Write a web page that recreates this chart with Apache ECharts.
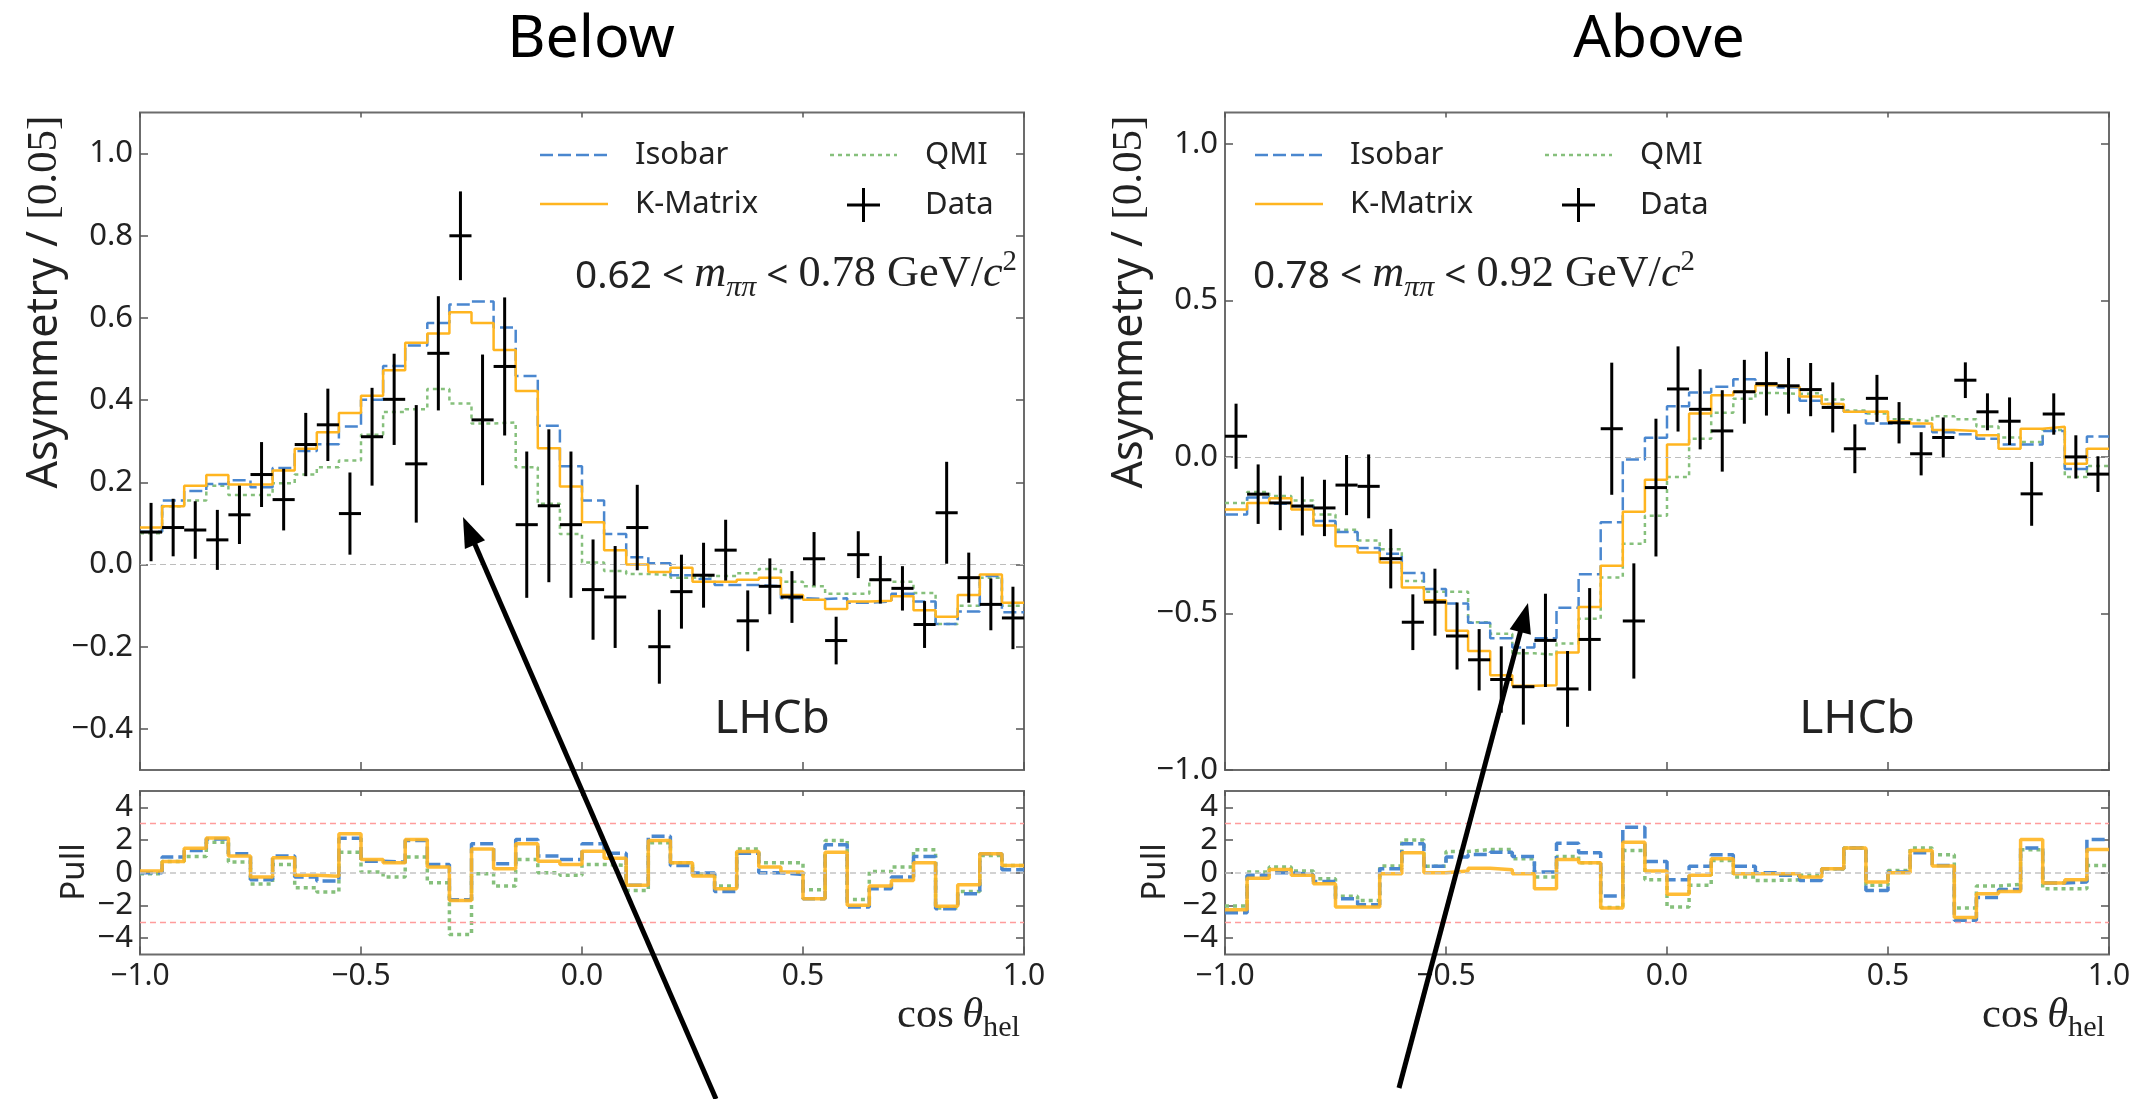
<!DOCTYPE html>
<html><head><meta charset="utf-8">
<script src="https://cdn.jsdelivr.net/npm/echarts@6/dist/echarts.min.js"></script>
<style>html,body{margin:0;padding:0;background:#fff}#c{width:2146px;height:1099px}</style>
</head><body><div id="c"></div>
<script>
// ---------------- DATA ----------------
const X_MIN = -1, X_MAX = 1, BIN_W = 0.05, N_BINS = 40;
const binLow = Array.from({length: N_BINS}, (_, i) => +(X_MIN + i * BIN_W).toFixed(3));
const binMid = binLow.map(x => +(x + BIN_W / 2).toFixed(3));
const xTicks = [-1, -0.5, 0, 0.5, 1];
const yTicksBelow = [-0.4, -0.2, 0, 0.2, 0.4, 0.6, 0.8, 1.0];
const yTicksAbove = [-1.0, -0.5, 0, 0.5, 1.0];
const pullTicks = [-4, -2, 0, 2, 4];

// Below: 0.62 < m < 0.78
const dataBelow = [0.079, 0.090, 0.084, 0.060, 0.121, 0.219, 0.158, 0.292, 0.340, 0.124,
  0.311, 0.402, 0.245, 0.514, 0.800, 0.352, 0.482, 0.097, 0.143, 0.097,
  -0.061, -0.079, 0.090, -0.200, -0.066, -0.026, 0.035, -0.137, -0.053, -0.079,
  0.014, -0.185, 0.024, -0.037, -0.058, -0.146, 0.126, -0.032, -0.097, -0.130];
const errBelow = [0.071, 0.070, 0.070, 0.073, 0.071, 0.079, 0.075, 0.077, 0.088, 0.100,
  0.119, 0.111, 0.143, 0.139, 0.108, 0.159, 0.168, 0.178, 0.186, 0.178,
  0.122, 0.124, 0.104, 0.090, 0.090, 0.079, 0.074, 0.074, 0.068, 0.063,
  0.065, 0.058, 0.057, 0.058, 0.054, 0.057, 0.124, 0.061, 0.063, 0.076];
const isobarBelow = [0.080, 0.156, 0.179, 0.196, 0.205, 0.188, 0.235, 0.276, 0.293, 0.336,
  0.401, 0.483, 0.533, 0.588, 0.633, 0.640, 0.577, 0.459, 0.338, 0.239,
  0.156, 0.074, 0.018, 0.003, -0.026, -0.035, -0.050, -0.050, -0.053, -0.082,
  -0.084, -0.082, -0.093, -0.090, -0.071, -0.090, -0.145, -0.114, -0.028, -0.116];
const kmatrixBelow = [0.090, 0.142, 0.192, 0.218, 0.195, 0.195, 0.229, 0.282, 0.322, 0.369,
  0.411, 0.473, 0.540, 0.562, 0.614, 0.588, 0.522, 0.422, 0.283, 0.190,
  0.103, 0.035, 0.000, -0.018, -0.008, -0.042, -0.042, -0.037, -0.032, -0.074,
  -0.086, -0.108, -0.090, -0.088, -0.077, -0.111, -0.127, -0.074, -0.024, -0.093];
const qmiBelow = [0.076, 0.142, 0.156, 0.192, 0.169, 0.169, 0.198, 0.219, 0.237, 0.253,
  0.316, 0.371, 0.378, 0.427, 0.392, 0.343, 0.346, 0.237, 0.148, 0.074,
  0.005, -0.016, -0.023, -0.026, -0.032, -0.028, -0.028, -0.021, -0.011, -0.042,
  -0.053, -0.071, -0.071, -0.037, -0.042, -0.069, -0.145, -0.100, -0.032, -0.100];
const pullIsobarBelow = [0.00, 0.96, 1.36, 2.07, 1.16, -0.43, 1.02, -0.26, -0.51, 2.11,
  0.71, 0.65, 1.97, 0.51, -1.65, 1.77, 0.55, 2.03, 1.02, 0.81,
  1.77, 1.20, -0.77, 2.24, 0.45, -0.02, -1.14, 1.20, 0.00, -0.10,
  -1.59, 1.71, -2.09, -0.98, -0.26, 1.00, -2.20, -1.28, 1.16, 0.18];
const pullKmatrixBelow = [0.10, 0.69, 1.50, 2.13, 1.02, -0.26, 0.91, -0.16, -0.22, 2.38,
  0.81, 0.61, 2.03, 0.35, -1.69, 1.46, 0.24, 1.77, 0.71, 0.51,
  1.32, 0.89, -0.77, 1.97, 0.61, -0.20, -0.98, 1.30, 0.35, 0.04,
  -1.59, 1.26, -1.99, -0.81, -0.47, 0.61, -2.05, -0.73, 1.16, 0.45];
const pullQmiBelow = [-0.06, 0.69, 1.00, 1.87, 0.65, -0.69, 0.51, -0.91, -1.18, 1.26,
  0.04, -0.26, 0.96, -0.61, -3.78, -0.06, -0.81, 0.81, 0.00, -0.16,
  0.51, 0.45, -1.08, 1.83, 0.61, -0.06, -0.81, 1.46, 0.61, 0.61,
  -1.04, 1.97, -1.63, 0.08, 0.35, 1.40, -2.15, -1.14, 1.06, 0.45];

// Above: 0.78 < m < 0.92
const dataAbove = [0.066, -0.119, -0.147, -0.157, -0.163, -0.090, -0.094, -0.325, -0.528, -0.464,
  -0.572, -0.648, -0.711, -0.734, -0.586, -0.741, -0.583, 0.090, -0.524, -0.098,
  0.217, 0.152, 0.083, 0.208, 0.234, 0.227, 0.215, 0.158, 0.026, 0.187,
  0.109, 0.010, 0.062, 0.245, 0.144, 0.114, -0.118, 0.137, 0.000, -0.055];
const errAbove = [0.104, 0.095, 0.087, 0.094, 0.090, 0.096, 0.102, 0.095, 0.089, 0.107,
  0.107, 0.098, 0.106, 0.121, 0.149, 0.121, 0.164, 0.211, 0.184, 0.220,
  0.136, 0.128, 0.130, 0.102, 0.102, 0.089, 0.085, 0.080, 0.078, 0.075,
  0.066, 0.069, 0.064, 0.057, 0.059, 0.076, 0.102, 0.066, 0.069, 0.057];
const isobarAbove = [-0.184, -0.130, -0.150, -0.157, -0.205, -0.240, -0.291, -0.309, -0.371, -0.422,
  -0.468, -0.530, -0.579, -0.609, -0.579, -0.482, -0.375, -0.209, -0.008, 0.061,
  0.162, 0.206, 0.224, 0.248, 0.231, 0.222, 0.179, 0.169, 0.144, 0.107,
  0.107, 0.097, 0.079, 0.072, 0.058, 0.040, 0.040, 0.083, -0.039, 0.065];
const kmatrixAbove = [-0.168, -0.147, -0.132, -0.168, -0.219, -0.285, -0.305, -0.337, -0.417, -0.458,
  -0.555, -0.620, -0.697, -0.731, -0.729, -0.625, -0.479, -0.348, -0.175, -0.073,
  0.040, 0.139, 0.197, 0.208, 0.229, 0.224, 0.193, 0.169, 0.144, 0.145,
  0.114, 0.107, 0.086, 0.083, 0.069, 0.026, 0.090, 0.096, -0.022, 0.026];
const qmiAbove = [-0.147, -0.112, -0.125, -0.139, -0.184, -0.233, -0.267, -0.295, -0.396, -0.431,
  -0.431, -0.528, -0.565, -0.627, -0.632, -0.596, -0.517, -0.385, -0.277, -0.188,
  -0.064, 0.058, 0.141, 0.186, 0.204, 0.201, 0.204, 0.183, 0.148, 0.139,
  0.120, 0.114, 0.130, 0.120, 0.097, 0.062, 0.048, 0.086, -0.064, -0.029];
const pullIsobarAbove = [-2.44, -0.16, 0.00, -0.12, -0.53, -1.59, -1.95, 0.24, 1.77, 0.39,
  0.96, 1.12, 1.26, 0.99, 0.04, 1.81, 1.22, -1.42, 2.78, 0.69,
  -0.43, 0.39, 1.10, 0.39, 0.00, -0.16, -0.47, 0.24, 1.52, -1.08,
  0.04, 1.22, 0.45, -2.91, -1.52, -1.02, 1.52, -0.63, -0.57, 2.03];
const pullKmatrixAbove = [-2.26, -0.33, 0.20, -0.16, -0.67, -2.09, -2.09, -0.06, 1.22, 0.00,
  0.10, 0.28, 0.18, -0.06, -0.98, 0.81, 0.61, -2.15, 1.87, 0.10,
  -1.32, -0.16, 0.85, -0.06, -0.06, -0.06, -0.26, 0.24, 1.52, -0.57,
  0.00, 1.36, 0.41, -2.74, -1.28, -1.14, 2.03, -0.63, -0.43, 1.42];
const pullQmiAbove = [-2.03, 0.04, 0.35, 0.10, -0.37, -1.44, -1.69, 0.41, 2.01, 0.39,
  1.30, 1.42, 1.42, 0.85, -0.26, 1.00, 0.61, -2.13, 1.36, -0.43,
  -2.09, -0.77, 0.75, -0.26, -0.47, -0.43, -0.16, 0.24, 1.52, -0.77,
  0.14, 1.52, 1.10, -2.15, -0.81, -0.71, 1.40, -0.98, -0.98, 0.45];

// ---------------- STYLE ----------------
const C_BLUE = '#4a87cf', C_ORANGE = '#ffb520', C_GREEN = '#86c07c';
const SANS = "'Noto Sans'", SERIF = "'Liberation Serif'";
const TICK_COLOR = '#555', FRAME = '#6c6c6c', LABEL_COLOR = '#222';

const panels = [
  {name: 'Below', left: 140, ymin: -0.5, ymax: 1.1, yTicks: yTicksBelow,
   data: dataBelow, err: errBelow, iso: isobarBelow, km: kmatrixBelow, qmi: qmiBelow,
   pIso: pullIsobarBelow, pKm: pullKmatrixBelow, pQmi: pullQmiBelow,
   mass: ['0.62', '0.78']},
  {name: 'Above', left: 1225, ymin: -1.0, ymax: 1.1, yTicks: yTicksAbove,
   data: dataAbove, err: errAbove, iso: isobarAbove, km: kmatrixAbove, qmi: qmiAbove,
   pIso: pullIsobarAbove, pKm: pullKmatrixAbove, pQmi: pullQmiAbove,
   mass: ['0.78', '0.92']}
];
const PW = 884, TOP_Y = 112.5, TOP_H = 657.5, PULL_Y = 791, PULL_H = 163.5;

const fmt = (v, d) => (v < 0 ? '\u2212' : '') + Math.abs(v).toFixed(d);

function stepData(vals) {
  const d = vals.map((v, i) => [binLow[i], v]);
  d.push([X_MAX, vals[vals.length - 1]]);
  return d;
}

const grids = [], xAxes = [], yAxes = [], series = [];

function addAxes(g, showX, ymin, ymax, ticks, dec) {
  const tick = {inside: true, length: 8, lineStyle: {color: TICK_COLOR, width: 1.5}};
  const noLine = {show: false, onZero: false};
  const xLab = {show: showX, fontSize: 30, fontFamily: SANS, color: LABEL_COLOR, margin: 7,
    customValues: xTicks, formatter: v => fmt(v, 1)};
  xAxes.push({type: 'value', gridIndex: g, position: 'bottom', min: X_MIN, max: X_MAX, interval: 0.5,
    axisLine: noLine, axisTick: Object.assign({customValues: xTicks}, tick), axisLabel: xLab, splitLine: {show: false}});
  xAxes.push({type: 'value', gridIndex: g, position: 'top', min: X_MIN, max: X_MAX, interval: 0.5,
    axisLine: noLine, axisTick: {customValues: xTicks, inside: true, length: 5, lineStyle: {color: TICK_COLOR, width: 1.5}},
    axisLabel: {show: false}, splitLine: {show: false}});
  yAxes.push({type: 'value', gridIndex: g, position: 'left', min: ymin, max: ymax,
    axisLine: noLine, splitLine: {show: false},
    axisTick: Object.assign({customValues: ticks}, tick),
    axisLabel: {customValues: ticks, fontSize: 31, fontFamily: SANS, color: LABEL_COLOR, margin: 7,
      formatter: v => fmt(v, dec)}});
  yAxes.push({type: 'value', gridIndex: g, position: 'right', min: ymin, max: ymax,
    axisLine: noLine, splitLine: {show: false},
    axisTick: Object.assign({customValues: ticks}, tick),
    axisLabel: {show: false, customValues: ticks}});
}

function stepSeries(name, vals, g, color, type, width, extra) {
  return Object.assign({
    name, type: 'line', step: 'end', data: stepData(vals), xAxisIndex: 2 * g, yAxisIndex: 2 * g,
    showSymbol: false, symbol: 'none', silent: true, animation: false,
    lineStyle: {color, width, type, cap: 'butt'}, z: 3
  }, extra || {});
}

function errSeries(vals, errs, g) {
  return {
    type: 'custom', xAxisIndex: 2 * g, yAxisIndex: 2 * g, silent: true, animation: false, z: 6,
    data: vals.map((v, i) => [binMid[i], v, errs[i]]),
    encode: {x: 0, y: 1},
    renderItem: (params, api) => {
      const x = api.value(0), y = api.value(1), e = api.value(2);
      const l = api.coord([x - BIN_W / 2, y]), r = api.coord([x + BIN_W / 2, y]);
      const t = api.coord([x, y + e]), b = api.coord([x, y - e]);
      const st = {stroke: '#000', lineWidth: 3};
      return {type: 'group', children: [
        {type: 'line', shape: {x1: l[0], y1: l[1], x2: r[0], y2: r[1]}, style: st},
        {type: 'line', shape: {x1: t[0], y1: t[1], x2: b[0], y2: b[1]}, style: st}
      ]};
    }
  };
}

panels.forEach((p, k) => {
  const gTop = 2 * k, gPull = 2 * k + 1;
  const gridStyle = {show: true, borderColor: FRAME, borderWidth: 2, backgroundColor: 'transparent', containLabel: false};
  grids.push(Object.assign({left: p.left, top: TOP_Y, width: PW, height: TOP_H}, gridStyle));
  grids.push(Object.assign({left: p.left, top: PULL_Y, width: PW, height: PULL_H}, gridStyle));
  addAxes(gTop, false, p.ymin, p.ymax, p.yTicks, 1);
  addAxes(gPull, true, -5, 5, pullTicks, 0);

  // top panel
  series.push(stepSeries('QMI', p.qmi, gTop, C_GREEN, [4, 4], 2.5, {
    markLine: {silent: true, symbol: 'none', label: {show: false}, animation: false,
      lineStyle: {color: '#bdbdbd', type: [6, 4], width: 1},
      data: [{yAxis: 0}]}, z: 2}));
  series.push(stepSeries('Isobar', p.iso, gTop, C_BLUE, [13, 5], 2.5));
  series.push(stepSeries('K-Matrix', p.km, gTop, C_ORANGE, 'solid', 2.5, {z: 4}));
  series.push(errSeries(p.data, p.err, gTop));

  // pull panel
  series.push(stepSeries('QMI pull', p.pQmi, gPull, C_GREEN, [4, 4], 3.5, {
    markLine: {silent: true, symbol: 'none', label: {show: false}, animation: false,
      data: [
        {yAxis: 3, lineStyle: {color: '#ff9c9c', type: [6, 4], width: 1.3}},
        {yAxis: -3, lineStyle: {color: '#ff9c9c', type: [6, 4], width: 1.3}},
        {yAxis: 0, lineStyle: {color: '#c4c4c4', type: [6, 4], width: 1.5}}
      ]}, z: 2}));
  series.push(stepSeries('Isobar pull', p.pIso, gPull, C_BLUE, [13, 5], 3.5));
  series.push(stepSeries('K-Matrix pull', p.pKm, gPull, C_ORANGE, 'solid', 3.5, {z: 4, lineStyle: {color: C_ORANGE, width: 3.5, opacity: 0.9}}));
});

// ---------------- TEXT HELPERS ----------------
const ctx2d = document.createElement('canvas').getContext('2d');
function fontStr(p, k) {
  return `${p.italic ? 'italic ' : ''}${p.weight || 'normal'} ${(p.size * k).toFixed(2)}px ${p.family}`;
}
function pieceW(p, k) { ctx2d.font = fontStr(p, k); return ctx2d.measureText(p.t).width; }
function runWidth(pieces, k) { return pieces.reduce((s, p) => s + pieceW(p, k), 0); }
function makeRun(pieces, o) {
  let k = 1;
  if (o.targetWidth) k = o.targetWidth / runWidth(pieces, 1);
  const w = runWidth(pieces, k);
  const align = o.align || 'left';
  let cx = align === 'left' ? o.x : (align === 'right' ? o.x - w : o.x - w / 2);
  const els = [];
  pieces.forEach(p => {
    const f = fontStr(p, k);
    els.push({type: 'text', silent: true, x: cx, y: o.baseline + (p.dy || 0) * k - 0.32 * p.size * k,
      style: {text: p.t, font: f, fill: o.fill || LABEL_COLOR, align: 'left', verticalAlign: 'middle',
        textAlign: 'left', textVerticalAlign: 'middle'}});
    cx += pieceW(p, k);
  });
  return els;
}
function simpleText(t, x, y, size, align, fill, family) {
  return {type: 'text', silent: true, x, y,
    style: {text: t, font: `normal ${size}px ${family || SANS}`, fill: fill || LABEL_COLOR,
      align: align || 'left', verticalAlign: 'middle', textAlign: align || 'left', textVerticalAlign: 'middle'}};
}
function hline(x1, y1, x2, y2, color, width, dash) {
  return {type: 'line', silent: true, shape: {x1, y1, x2, y2},
    style: {stroke: color, lineWidth: width, lineDash: dash || null, lineCap: 'butt'}};
}
function arrow(x0, y0, x1, y1) {
  const dx = x1 - x0, dy = y1 - y0, L = Math.hypot(dx, dy);
  const ux = dx / L, uy = dy / L, nx = -uy, ny = ux;
  const HL = 30, HW = 11;
  const bx = x1 - ux * HL, by = y1 - uy * HL;
  return [
    {type: 'line', silent: true, shape: {x1: x0, y1: y0, x2: bx + ux * 4, y2: by + uy * 4},
      style: {stroke: '#000', lineWidth: 5}, z: 100},
    {type: 'polygon', silent: true, shape: {points: [[x1, y1], [bx + nx * HW, by + ny * HW], [bx - nx * HW, by - ny * HW]]},
      style: {fill: '#000'}, z: 100}
  ];
}

const graphics = [];
panels.forEach((p, k) => {
  const L = p.left;
  graphics.push(simpleText(p.name, k === 0 ? 591 : 1659, 40, 59, 'center', '#000'));
  const lx = k === 0 ? L + 400 : L + 30;
  graphics.push(hline(lx, 155, lx + 67, 155, C_BLUE, 2.5, [13, 5]));
  graphics.push(simpleText('Isobar', lx + 95, 155, 31));
  graphics.push(hline(lx, 204, lx + 68, 204, C_ORANGE, 2.5));
  graphics.push(simpleText('K-Matrix', lx + 95, 204, 31));
  graphics.push(hline(lx + 290, 155, lx + 357, 155, C_GREEN, 2.5, [4, 4]));
  graphics.push(simpleText('QMI', lx + 385, 155, 31));
  graphics.push(hline(lx + 307, 205, lx + 340, 205, '#000', 3));
  graphics.push(hline(lx + 323.5, 188, lx + 323.5, 222, '#000', 3));
  graphics.push(simpleText('Data', lx + 385, 205, 31));
  const massPieces = [
    {t: p.mass[0] + ' < ', size: 35, family: SANS},
    {t: 'm', size: 40, family: SERIF, italic: true},
    {t: '\u03c0\u03c0', size: 27, family: SERIF, italic: true, dy: 8},
    {t: ' < ', size: 35, family: SANS},
    {t: p.mass[1] + ' GeV/', size: 40, family: SERIF},
    {t: 'c', size: 40, family: SERIF, italic: true},
    {t: '2', size: 26, family: SERIF, dy: -16}
  ];
  if (k === 0) graphics.push(...makeRun(massPieces, {x: L + 877, baseline: 289, align: 'right', targetWidth: 442}));
  else graphics.push(...makeRun(massPieces, {x: L + 28, baseline: 289, align: 'left', targetWidth: 442}));
  graphics.push(simpleText('LHCb', L + 632, 720, 46, 'center', '#222'));
  graphics.push(...makeRun([
    {t: 'cos\u2009', size: 38, family: SERIF},
    {t: '\u03b8', size: 38, family: SERIF, italic: true},
    {t: 'hel', size: 27, family: SERIF, dy: 8}
  ], {x: L + 880, baseline: 1029, align: 'right', targetWidth: 123}));
  const asym = makeRun([
    {t: 'Asymmetry / ', size: 38, family: SANS},
    {t: '[0.05]', size: 38, family: SERIF}
  ], {x: 0, baseline: 0.32 * 38 + 2, align: 'center', targetWidth: 373});
  graphics.push({type: 'group', x: k === 0 ? 44 : 1129, y: 302, rotation: Math.PI / 2, children: asym});
  graphics.push({type: 'group', x: k === 0 ? 75 : 1156, y: 872, rotation: Math.PI / 2,
    children: [simpleText('Pull', 0, 0, 33, 'center')]});
});
graphics.push(...arrow(716, 1099, 463, 517));
graphics.push(...arrow(1399, 1088, 1528, 603));

const chart = echarts.init(document.getElementById('c'), null, {renderer: 'canvas', width: 2146, height: 1099});
chart.setOption({
  animation: false,
  backgroundColor: '#fff',
  grid: grids, xAxis: xAxes, yAxis: yAxes, series,
  graphic: {elements: graphics}
});
</script></body></html>
